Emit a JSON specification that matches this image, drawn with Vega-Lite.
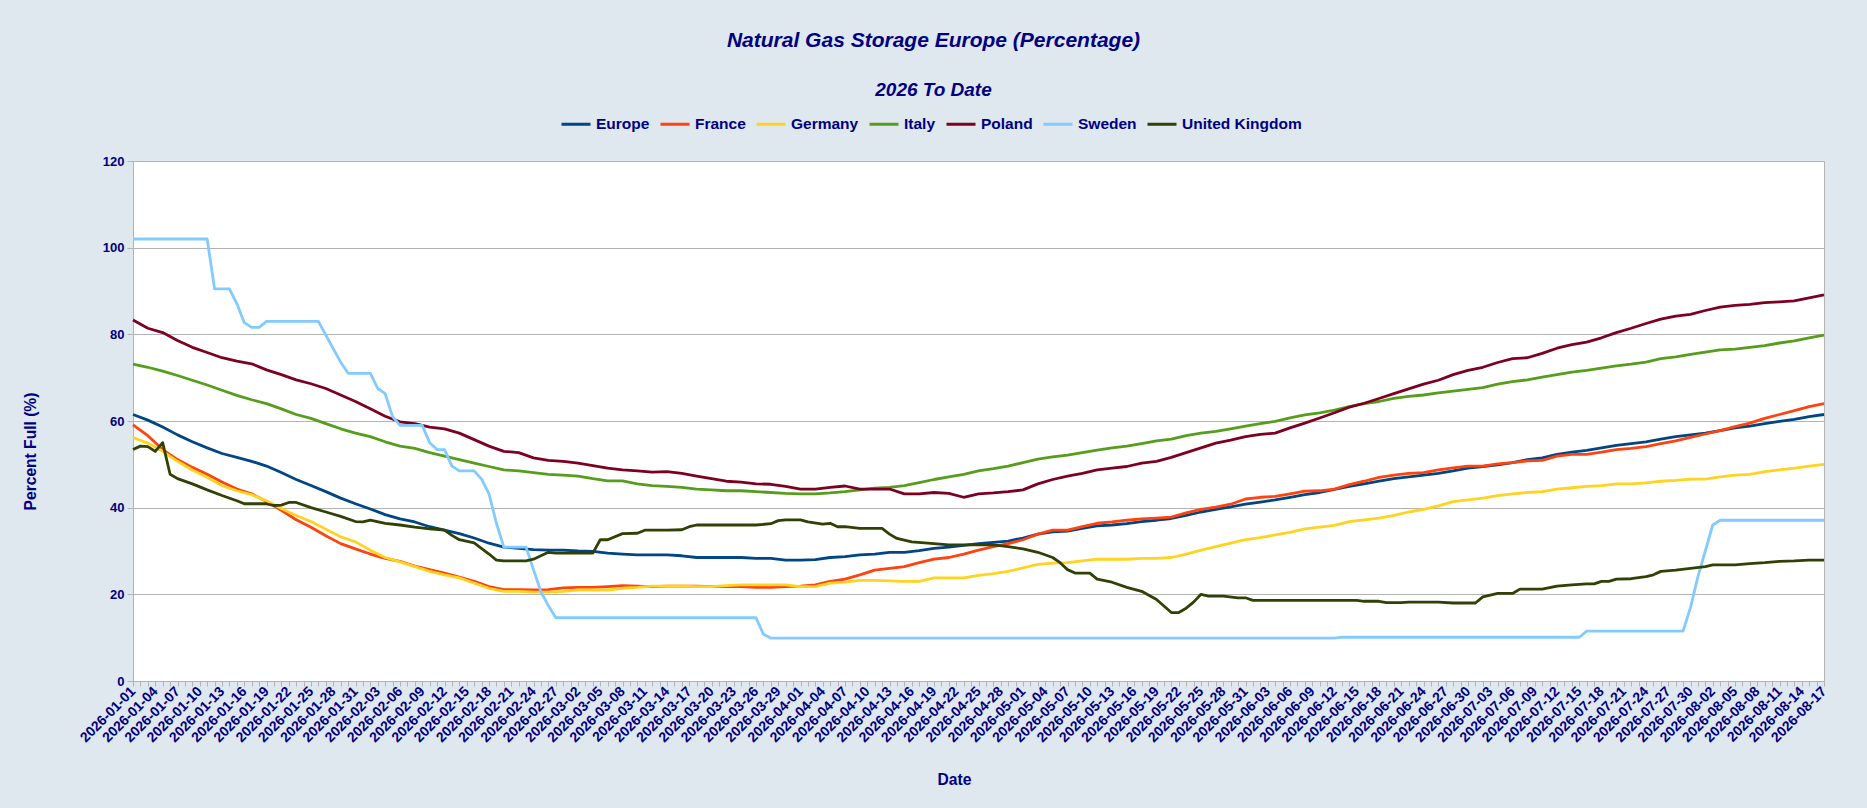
{
"$schema": "https://vega.github.io/schema/vega-lite/v6.json",
"width": 1691,
"height": 520,
"autosize": {"type": "none"},
"padding": {"left": 133, "top": 161, "right": 43, "bottom": 127},
"background": "#dfe7ef",
"title": {"text": "Natural Gas Storage Europe (Percentage)", "subtitle": "2026 To Date", "anchor": "middle", "frame": "group", "dx": -45, "offset": 8, "font": "Liberation Sans", "fontSize": 21, "fontWeight": "bold", "fontStyle": "italic", "color": "#000080", "subtitleFont": "Liberation Sans", "subtitleFontSize": 19, "subtitleFontWeight": "bold", "subtitleFontStyle": "italic", "subtitleColor": "#000080", "subtitlePadding": 30},
"data": {"values": [
{"date":"2026-01-01","Europe":61.5,"France":59.1,"Germany":56.2,"Italy":73.1,"Poland":83.3,"Sweden":102.0,"United Kingdom":53.4},
{"date":"2026-01-02","United Kingdom":54.2},
{"date":"2026-01-03","Europe":60.2,"France":56.6,"Germany":54.9,"Italy":72.4,"Poland":81.4,"United Kingdom":54.1},
{"date":"2026-01-04","United Kingdom":53.0},
{"date":"2026-01-05","Europe":58.6,"France":53.4,"Germany":53.0,"Italy":71.5,"Poland":80.4,"United Kingdom":55.0},
{"date":"2026-01-06","United Kingdom":47.7},
{"date":"2026-01-07","Europe":56.8,"France":51.1,"Germany":50.7,"Italy":70.5,"Poland":78.6,"United Kingdom":46.7},
{"date":"2026-01-09","Europe":55.2,"France":49.3,"Germany":48.7,"Italy":69.4,"Poland":77.0,"United Kingdom":45.5},
{"date":"2026-01-11","Europe":53.8,"France":47.7,"Germany":47.0,"Italy":68.3,"Poland":75.8,"Sweden":102.0,"United Kingdom":44.1},
{"date":"2026-01-12","Sweden":90.5},
{"date":"2026-01-13","Europe":52.5,"France":45.9,"Germany":45.1,"Italy":67.1,"Poland":74.6,"United Kingdom":42.8},
{"date":"2026-01-14","Sweden":90.5},
{"date":"2026-01-15","Europe":51.6,"France":44.3,"Germany":43.9,"Italy":65.9,"Poland":73.8,"Sweden":87.1,"United Kingdom":41.6},
{"date":"2026-01-16","Sweden":82.7,"United Kingdom":40.9},
{"date":"2026-01-17","Europe":50.7,"France":43.2,"Germany":43.0,"Italy":64.9,"Poland":73.2,"Sweden":81.6},
{"date":"2026-01-18","Sweden":81.6},
{"date":"2026-01-19","Europe":49.6,"France":41.4,"Germany":41.6,"Italy":64.0,"Poland":71.8,"Sweden":83.0,"United Kingdom":40.9},
{"date":"2026-01-20","United Kingdom":40.5},
{"date":"2026-01-21","Europe":48.1,"France":39.4,"Germany":39.8,"Italy":62.8,"Poland":70.7,"United Kingdom":40.6},
{"date":"2026-01-22","United Kingdom":41.2},
{"date":"2026-01-23","Europe":46.5,"France":37.2,"Germany":38.2,"Italy":61.5,"Poland":69.5,"United Kingdom":41.2},
{"date":"2026-01-25","Europe":45.1,"France":35.5,"Germany":36.8,"Italy":60.6,"Poland":68.6,"United Kingdom":40.0},
{"date":"2026-01-26","Sweden":83.0},
{"date":"2026-01-27","Europe":43.7,"France":33.5,"Germany":35.0,"Italy":59.4,"Poland":67.5,"Sweden":79.8,"United Kingdom":39.0},
{"date":"2026-01-29","Europe":42.2,"France":31.7,"Germany":33.3,"Italy":58.2,"Poland":66.0,"Sweden":73.6,"United Kingdom":38.0},
{"date":"2026-01-30","Sweden":71.0},
{"date":"2026-01-31","Europe":40.9,"France":30.5,"Germany":32.1,"Italy":57.2,"Poland":64.5,"United Kingdom":36.8},
{"date":"2026-02-01","United Kingdom":36.7},
{"date":"2026-02-02","Europe":39.7,"France":29.3,"Germany":30.2,"Italy":56.4,"Poland":62.8,"Sweden":71.0,"United Kingdom":37.1},
{"date":"2026-02-03","Sweden":67.5},
{"date":"2026-02-04","Europe":38.4,"France":28.3,"Germany":28.5,"Italy":55.2,"Poland":61.1,"Sweden":66.3,"United Kingdom":36.4},
{"date":"2026-02-05","Sweden":61.0},
{"date":"2026-02-06","Europe":37.4,"France":27.6,"Germany":27.5,"Italy":54.2,"Poland":59.8,"Sweden":59.0,"United Kingdom":36.0},
{"date":"2026-02-08","Europe":36.7,"France":26.5,"Germany":26.4,"Italy":53.7,"Poland":59.4,"United Kingdom":35.5},
{"date":"2026-02-09","Sweden":59.0},
{"date":"2026-02-10","Europe":35.6,"France":25.7,"Germany":25.3,"Italy":52.7,"Poland":58.6,"Sweden":55.0,"United Kingdom":35.1},
{"date":"2026-02-11","Sweden":53.4},
{"date":"2026-02-12","Europe":34.8,"France":24.9,"Germany":24.5,"Italy":51.9,"Poland":58.2,"Sweden":53.4,"United Kingdom":34.8},
{"date":"2026-02-13","Sweden":49.6,"United Kingdom":33.6},
{"date":"2026-02-14","Europe":34.0,"France":24.0,"Germany":23.8,"Italy":51.1,"Poland":57.2,"Sweden":48.5,"United Kingdom":32.6},
{"date":"2026-02-16","Europe":33.0,"France":23.0,"Germany":22.6,"Italy":50.3,"Poland":55.7,"Sweden":48.5,"United Kingdom":31.9},
{"date":"2026-02-17","Sweden":46.6},
{"date":"2026-02-18","Europe":31.8,"France":21.8,"Germany":21.4,"Italy":49.5,"Poland":54.2,"Sweden":43.2,"United Kingdom":29.3},
{"date":"2026-02-19","Sweden":36.4,"United Kingdom":27.9},
{"date":"2026-02-20","Europe":30.9,"France":21.1,"Germany":20.7,"Italy":48.7,"Poland":53.0,"Sweden":30.9,"United Kingdom":27.7},
{"date":"2026-02-22","Europe":30.6,"France":21.1,"Germany":20.7,"Italy":48.5,"Poland":52.7},
{"date":"2026-02-23","Sweden":30.9,"United Kingdom":27.7},
{"date":"2026-02-24","Europe":30.3,"France":21.0,"Germany":20.5,"Italy":48.1,"Poland":51.5,"Sweden":25.7,"United Kingdom":28.1},
{"date":"2026-02-25","Sweden":20.6},
{"date":"2026-02-26","Europe":30.2,"France":21.1,"Germany":20.5,"Italy":47.7,"Poland":50.9,"Sweden":17.4,"United Kingdom":29.7},
{"date":"2026-02-27","Sweden":14.6,"United Kingdom":29.5},
{"date":"2026-02-28","Europe":30.2,"France":21.5,"Germany":20.7,"Italy":47.5,"Poland":50.7},
{"date":"2026-03-02","Europe":30.0,"France":21.6,"Germany":21.0,"Italy":47.3,"Poland":50.3},
{"date":"2026-03-04","Europe":29.9,"France":21.6,"Germany":21.0,"Italy":46.7,"Poland":49.7,"United Kingdom":29.5},
{"date":"2026-03-05","United Kingdom":32.6},
{"date":"2026-03-06","Europe":29.5,"France":21.8,"Germany":21.0,"Italy":46.2,"Poland":49.1,"United Kingdom":32.6},
{"date":"2026-03-08","Europe":29.3,"France":22.0,"Germany":21.4,"Italy":46.2,"Poland":48.7,"United Kingdom":34.0},
{"date":"2026-03-10","Europe":29.1,"France":21.9,"Germany":21.6,"Italy":45.5,"Poland":48.5,"United Kingdom":34.1},
{"date":"2026-03-11","United Kingdom":34.8},
{"date":"2026-03-12","Europe":29.1,"France":21.8,"Germany":21.9,"Italy":45.1,"Poland":48.2},
{"date":"2026-03-14","Europe":29.1,"France":21.9,"Germany":21.9,"Italy":44.9,"Poland":48.3,"United Kingdom":34.8},
{"date":"2026-03-16","Europe":28.9,"France":21.9,"Germany":21.9,"Italy":44.7,"Poland":47.9,"United Kingdom":34.9},
{"date":"2026-03-17","United Kingdom":35.6},
{"date":"2026-03-18","Europe":28.5,"France":21.9,"Germany":21.8,"Italy":44.3,"Poland":47.3,"United Kingdom":36.0},
{"date":"2026-03-20","Europe":28.5,"France":21.8,"Germany":21.8,"Italy":44.1,"Poland":46.7},
{"date":"2026-03-22","Europe":28.5,"France":21.8,"Germany":22.0,"Italy":43.9,"Poland":46.1},
{"date":"2026-03-24","Europe":28.5,"France":21.8,"Germany":22.2,"Italy":43.9,"Poland":45.9},
{"date":"2026-03-26","Europe":28.3,"France":21.6,"Germany":22.2,"Italy":43.7,"Poland":45.5,"Sweden":14.6,"United Kingdom":36.0},
{"date":"2026-03-27","Sweden":10.8},
{"date":"2026-03-28","Europe":28.3,"France":21.6,"Germany":22.2,"Italy":43.5,"Poland":45.4,"Sweden":9.9,"United Kingdom":36.3},
{"date":"2026-03-29","United Kingdom":37.0},
{"date":"2026-03-30","Europe":27.9,"France":21.8,"Germany":22.2,"Italy":43.3,"Poland":44.9,"United Kingdom":37.2},
{"date":"2026-04-01","Europe":27.9,"France":21.9,"Germany":21.8,"Italy":43.2,"Poland":44.3,"United Kingdom":37.2},
{"date":"2026-04-02","United Kingdom":36.7},
{"date":"2026-04-03","Europe":28.0,"France":22.2,"Germany":21.8,"Italy":43.2,"Poland":44.3},
{"date":"2026-04-04","United Kingdom":36.2},
{"date":"2026-04-05","Europe":28.5,"France":23.0,"Germany":22.6,"Italy":43.4,"Poland":44.7,"United Kingdom":36.4},
{"date":"2026-04-06","United Kingdom":35.6},
{"date":"2026-04-07","Europe":28.7,"France":23.5,"Germany":22.8,"Italy":43.7,"Poland":45.0,"United Kingdom":35.6},
{"date":"2026-04-09","Europe":29.1,"France":24.5,"Germany":23.2,"Italy":44.1,"Poland":44.3,"United Kingdom":35.2},
{"date":"2026-04-11","Europe":29.3,"France":25.6,"Germany":23.2,"Italy":44.5,"Poland":44.3},
{"date":"2026-04-12","United Kingdom":35.2},
{"date":"2026-04-13","Europe":29.7,"France":26.0,"Germany":23.1,"Italy":44.7,"Poland":44.3,"United Kingdom":33.9},
{"date":"2026-04-14","United Kingdom":32.9},
{"date":"2026-04-15","Europe":29.7,"France":26.4,"Germany":23.0,"Italy":45.1,"Poland":43.2},
{"date":"2026-04-16","United Kingdom":32.1},
{"date":"2026-04-17","Europe":30.1,"France":27.3,"Germany":23.0,"Italy":45.8,"Poland":43.2},
{"date":"2026-04-19","Europe":30.6,"France":28.1,"Germany":23.8,"Italy":46.5,"Poland":43.5,"United Kingdom":31.7},
{"date":"2026-04-21","Europe":30.9,"France":28.5,"Germany":23.8,"Italy":47.1,"Poland":43.3,"United Kingdom":31.4},
{"date":"2026-04-23","Europe":31.3,"France":29.3,"Germany":23.8,"Italy":47.7,"Poland":42.4},
{"date":"2026-04-25","Europe":31.7,"France":30.2,"Germany":24.4,"Italy":48.5,"Poland":43.2},
{"date":"2026-04-27","Europe":32.0,"France":31.0,"Germany":24.8,"Italy":49.0,"Poland":43.4,"United Kingdom":31.4},
{"date":"2026-04-29","Europe":32.3,"France":31.7,"Germany":25.3,"Italy":49.6,"Poland":43.7,"United Kingdom":31.0},
{"date":"2026-05-01","Europe":33.0,"France":32.6,"Germany":26.1,"Italy":50.4,"Poland":44.1,"United Kingdom":30.5},
{"date":"2026-05-03","Europe":33.9,"France":33.9,"Germany":26.9,"Italy":51.2,"Poland":45.5,"United Kingdom":29.7},
{"date":"2026-05-05","Europe":34.4,"France":34.8,"Germany":27.2,"Italy":51.7,"Poland":46.5,"United Kingdom":28.5},
{"date":"2026-05-06","United Kingdom":27.3},
{"date":"2026-05-07","Europe":34.6,"France":34.8,"Germany":27.3,"Italy":52.1,"Poland":47.3,"United Kingdom":25.7},
{"date":"2026-05-08","United Kingdom":24.9},
{"date":"2026-05-09","Europe":35.2,"France":35.6,"Germany":27.7,"Italy":52.7,"Poland":47.9},
{"date":"2026-05-10","United Kingdom":24.9},
{"date":"2026-05-11","Europe":35.8,"France":36.4,"Germany":28.1,"Italy":53.3,"Poland":48.7,"United Kingdom":23.5},
{"date":"2026-05-13","Europe":36.0,"France":36.7,"Germany":28.1,"Italy":53.8,"Poland":49.1,"United Kingdom":22.8},
{"date":"2026-05-15","Europe":36.3,"France":37.1,"Germany":28.1,"Italy":54.2,"Poland":49.5,"United Kingdom":21.6},
{"date":"2026-05-17","Europe":36.8,"France":37.4,"Germany":28.3,"Italy":54.8,"Poland":50.3,"United Kingdom":20.7},
{"date":"2026-05-19","Europe":37.1,"France":37.6,"Germany":28.3,"Italy":55.4,"Poland":50.7,"United Kingdom":18.8},
{"date":"2026-05-21","Europe":37.5,"France":37.8,"Germany":28.5,"Italy":55.8,"Poland":51.6,"United Kingdom":15.8},
{"date":"2026-05-22","United Kingdom":15.8},
{"date":"2026-05-23","Europe":38.2,"France":38.8,"Germany":29.3,"Italy":56.6,"Poland":52.7,"United Kingdom":16.8},
{"date":"2026-05-24","United Kingdom":18.2},
{"date":"2026-05-25","Europe":39.0,"France":39.6,"Germany":30.2,"Italy":57.2,"Poland":53.8,"United Kingdom":20.0},
{"date":"2026-05-26","United Kingdom":19.6},
{"date":"2026-05-27","Europe":39.6,"France":40.1,"Germany":31.0,"Italy":57.6,"Poland":54.9},
{"date":"2026-05-28","United Kingdom":19.6},
{"date":"2026-05-29","Europe":40.2,"France":40.8,"Germany":31.8,"Italy":58.2,"Poland":55.6},
{"date":"2026-05-30","United Kingdom":19.2},
{"date":"2026-05-31","Europe":40.8,"France":42.0,"Germany":32.6,"Italy":58.8,"Poland":56.4,"United Kingdom":19.2},
{"date":"2026-06-01","United Kingdom":18.6},
{"date":"2026-06-02","Europe":41.3,"France":42.4,"Germany":33.1,"Italy":59.4,"Poland":56.9},
{"date":"2026-06-04","Europe":41.8,"France":42.6,"Germany":33.7,"Italy":59.9,"Poland":57.2},
{"date":"2026-06-06","Europe":42.4,"France":43.2,"Germany":34.3,"Italy":60.7,"Poland":58.4},
{"date":"2026-06-08","Europe":43.0,"France":43.8,"Germany":35.1,"Italy":61.4,"Poland":59.5},
{"date":"2026-06-10","Europe":43.5,"France":43.9,"Germany":35.5,"Italy":61.9,"Poland":60.7},
{"date":"2026-06-12","Europe":44.2,"France":44.3,"Germany":35.9,"Italy":62.5,"Poland":61.9,"Sweden":9.9},
{"date":"2026-06-13","Sweden":10.1},
{"date":"2026-06-14","Europe":44.9,"France":45.3,"Germany":36.8,"Italy":63.3,"Poland":63.2},
{"date":"2026-06-15","United Kingdom":18.6},
{"date":"2026-06-16","Europe":45.5,"France":46.1,"Germany":37.2,"Italy":64.0,"Poland":64.1,"United Kingdom":18.4},
{"date":"2026-06-18","Europe":46.1,"France":47.0,"Germany":37.6,"Italy":64.5,"Poland":65.2,"United Kingdom":18.4},
{"date":"2026-06-19","United Kingdom":18.1},
{"date":"2026-06-20","Europe":46.7,"France":47.5,"Germany":38.2,"Italy":65.2,"Poland":66.3},
{"date":"2026-06-21","United Kingdom":18.1},
{"date":"2026-06-22","Europe":47.1,"France":47.9,"Germany":39.0,"Italy":65.7,"Poland":67.4,"United Kingdom":18.2},
{"date":"2026-06-24","Europe":47.5,"France":48.1,"Germany":39.6,"Italy":66.0,"Poland":68.5},
{"date":"2026-06-26","Europe":47.9,"France":48.7,"Germany":40.4,"Italy":66.5,"Poland":69.4,"United Kingdom":18.2},
{"date":"2026-06-28","Europe":48.5,"France":49.2,"Germany":41.4,"Italy":66.9,"Poland":70.7,"United Kingdom":18.0},
{"date":"2026-06-30","Europe":49.1,"France":49.6,"Germany":41.8,"Italy":67.3,"Poland":71.7},
{"date":"2026-07-01","United Kingdom":18.0},
{"date":"2026-07-02","Europe":49.5,"France":49.6,"Germany":42.2,"Italy":67.7,"Poland":72.4,"United Kingdom":19.4},
{"date":"2026-07-04","Europe":49.9,"France":50.1,"Germany":42.8,"Italy":68.5,"Poland":73.5,"United Kingdom":20.2},
{"date":"2026-07-06","Europe":50.4,"France":50.4,"Germany":43.2,"Italy":69.1,"Poland":74.4,"United Kingdom":20.2},
{"date":"2026-07-07","United Kingdom":21.2},
{"date":"2026-07-08","Europe":51.1,"France":50.8,"Germany":43.5,"Italy":69.5,"Poland":74.6},
{"date":"2026-07-10","Europe":51.5,"France":50.9,"Germany":43.7,"Italy":70.1,"Poland":75.6,"United Kingdom":21.2},
{"date":"2026-07-12","Europe":52.3,"France":51.9,"Germany":44.3,"Italy":70.7,"Poland":76.8,"United Kingdom":21.9},
{"date":"2026-07-14","Europe":52.8,"France":52.3,"Germany":44.6,"Italy":71.3,"Poland":77.6,"United Kingdom":22.2},
{"date":"2026-07-15","Sweden":10.1},
{"date":"2026-07-16","Europe":53.2,"France":52.3,"Germany":44.9,"Italy":71.7,"Poland":78.2,"Sweden":11.5,"United Kingdom":22.4},
{"date":"2026-07-17","United Kingdom":22.4},
{"date":"2026-07-18","Europe":53.8,"France":52.8,"Germany":45.1,"Italy":72.2,"Poland":79.2,"United Kingdom":23.0},
{"date":"2026-07-19","United Kingdom":23.0},
{"date":"2026-07-20","Europe":54.4,"France":53.4,"Germany":45.5,"Italy":72.7,"Poland":80.4,"United Kingdom":23.5},
{"date":"2026-07-22","Europe":54.8,"France":53.7,"Germany":45.5,"Italy":73.1,"Poland":81.4,"United Kingdom":23.6},
{"date":"2026-07-24","Europe":55.2,"France":54.1,"Germany":45.7,"Italy":73.6,"Poland":82.5,"United Kingdom":24.1},
{"date":"2026-07-25","United Kingdom":24.5},
{"date":"2026-07-26","Europe":55.8,"France":54.8,"Germany":46.1,"Italy":74.4,"Poland":83.5,"United Kingdom":25.3},
{"date":"2026-07-28","Europe":56.4,"France":55.4,"Germany":46.3,"Italy":74.8,"Poland":84.2,"United Kingdom":25.6},
{"date":"2026-07-29","Sweden":11.5},
{"date":"2026-07-30","Europe":56.8,"France":56.2,"Germany":46.6,"Italy":75.4,"Poland":84.6,"Sweden":17.0,"United Kingdom":26.0},
{"date":"2026-07-31","Sweden":24.1},
{"date":"2026-08-01","Europe":57.2,"France":57.0,"Germany":46.6,"Italy":75.9,"Poland":85.5,"United Kingdom":26.4},
{"date":"2026-08-02","Sweden":36.0,"United Kingdom":26.8},
{"date":"2026-08-03","Europe":57.8,"France":57.8,"Germany":47.1,"Italy":76.4,"Poland":86.3,"Sweden":37.1},
{"date":"2026-08-05","Europe":58.4,"France":58.7,"Germany":47.5,"Italy":76.6,"Poland":86.7,"United Kingdom":26.8},
{"date":"2026-08-07","Europe":58.8,"France":59.5,"Germany":47.7,"Italy":77.0,"Poland":86.9,"United Kingdom":27.1},
{"date":"2026-08-09","Europe":59.4,"France":60.6,"Germany":48.3,"Italy":77.4,"Poland":87.3,"United Kingdom":27.3},
{"date":"2026-08-11","Europe":59.9,"France":61.5,"Germany":48.7,"Italy":78.0,"Poland":87.5,"United Kingdom":27.6},
{"date":"2026-08-13","Europe":60.4,"France":62.4,"Germany":49.1,"Italy":78.5,"Poland":87.7,"United Kingdom":27.7},
{"date":"2026-08-15","Europe":61.0,"France":63.3,"Germany":49.6,"Italy":79.2,"Poland":88.4,"United Kingdom":27.9},
{"date":"2026-08-17","Europe":61.5,"France":64.0,"Germany":50.0,"Italy":79.8,"Poland":89.1,"Sweden":37.1,"United Kingdom":27.9}
]},
"transform": [
  {"fold": ["Europe", "France", "Germany", "Italy", "Poland", "Sweden", "United Kingdom"], "as": ["series", "value"]},
  {"filter": {"field": "value", "valid": true}}
],
"mark": {"type": "line", "strokeWidth": 2.8, "strokeJoin": "round"},
"encoding": {
  "x": {"field": "date", "type": "temporal",
    "scale": {"type": "utc", "domain": [1767225600000, 1786924800000], "nice": false},
    "axis": {"tickCount": {"interval": "day", "step": 1},
      "labelExpr": "round((time(datum.value) - 1767225600000) / 86400000) % 3 == 0 ? utcFormat(datum.value, '%Y-%m-%d') : ''",
      "labelAngle": -45, "labelAlign": "right", "labelBaseline": "middle", "labelOverlap": false, "labelFlush": false, "labelBound": false,
      "grid": false, "tickSize": 5, "tickColor": "#b3b3b3", "domainColor": "#b3b3b3",
      "labelFont": "Liberation Sans", "labelFontSize": 14, "labelFontWeight": "bold", "labelColor": "#000080", "labelPadding": 3,
      "title": "Date", "titleX": 821, "titleY": 98, "titleAlign": "center", "titleBaseline": "middle", "titleAngle": 0,
      "titleFont": "Liberation Sans", "titleFontSize": 15.6, "titleFontWeight": "bold", "titleColor": "#000080"}},
  "y": {"field": "value", "type": "quantitative",
    "scale": {"domain": [0, 120], "nice": false},
    "axis": {"values": [0, 20, 40, 60, 80, 100, 120], "grid": true, "gridColor": "#b3b3b3", "domainColor": "#b3b3b3", "tickColor": "#b3b3b3", "tickSize": 6,
      "labelFont": "Liberation Sans", "labelFontSize": 13, "labelFontWeight": "bold", "labelColor": "#000080", "labelPadding": 3,
      "title": "Percent Full (%)", "titleX": -103, "titleY": 290, "titleAngle": 270, "titleAlign": "center", "titleBaseline": "middle",
      "titleFont": "Liberation Sans", "titleFontSize": 15.6, "titleFontWeight": "bold", "titleColor": "#000080"}},
  "color": {"field": "series", "type": "nominal",
    "scale": {"domain": ["Europe", "France", "Germany", "Italy", "Poland", "Sweden", "United Kingdom"],
      "range": ["#004586", "#ff420e", "#ffd320", "#579d1c", "#7e0021", "#83caff", "#314004"]},
    "legend": {"orient": "none", "legendX": 427, "legendY": -53, "direction": "horizontal", "title": null,
      "symbolType": "stroke", "symbolSize": 841, "symbolStrokeWidth": 3, "labelFont": "Liberation Sans", "labelFontSize": 15.5, "labelFontWeight": "bold",
      "labelColor": "#000080", "labelOffset": 4, "columnPadding": 4, "padding": 0}}
},
"config": {
  "view": {"fill": "#ffffff", "stroke": "#b3b3b3", "strokeWidth": 1},
  "font": "Liberation Sans"
}
}
